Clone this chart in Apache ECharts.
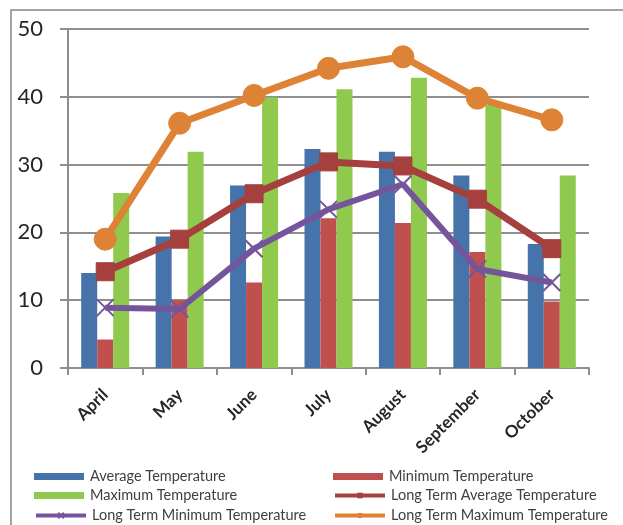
<!DOCTYPE html>
<html>
<head>
<meta charset="utf-8">
<script src="https://cdn.jsdelivr.net/npm/echarts@6/dist/echarts.min.js"></script>
<style>
  html, body { margin: 0; padding: 0; background: #ffffff; }
  #chart { width: 623px; height: 525px; }
</style>
</head>
<body>
<div id="chart"></div>
<script>
// Monthly temperatures (°C), April to October
const months = ['April', 'May', 'June', 'July', 'August', 'September', 'October'];
const yTicks = [0, 10, 20, 30, 40, 50];

const avgTemp = [14.0, 19.4, 26.9, 32.3, 31.9, 28.4, 18.3];
const minTemp = [4.2, 10.0, 12.6, 22.1, 21.4, 17.1, 9.8];
const maxTemp = [25.8, 31.9, 39.9, 41.1, 42.8, 38.8, 28.4];
const ltAvgTemp = [14.2, 19.0, 25.7, 30.4, 29.8, 24.9, 17.6];
const ltMinTemp = [8.9, 8.7, 17.6, 23.4, 27.1, 14.6, 12.6];
const ltMaxTemp = [19.0, 36.1, 40.2, 44.2, 45.9, 39.8, 36.6];

const C = {
  blue: '#4673A9',
  red: '#C0504D',
  green: '#8FCA4E',
  maroon: '#A5403E',
  purple: '#74559C',
  orange: '#DE8336',
  grid: '#8e8e8e',
  text: '#262626',
  legendText: '#404040'
};

const FONT = 'Lato, "Liberation Sans", sans-serif';
const crossPath = 'path://M0,0L10,10M10,0L0,10';

function barSeries(name, data, color) {
  return {
    name, type: 'bar', data,
    barWidth: 16, barGap: '0%',
    itemStyle: { color },
    z: 2
  };
}

function lineSeries(name, data, color, symbol, size, width, extra) {
  return Object.assign({
    name, type: 'line', data,
    symbol, symbolSize: size,
    showAllSymbol: true,
    lineStyle: { color, width },
    itemStyle: { color, borderColor: color },
    z: 5
  }, extra || {});
}

function legendAt(name, left, top, icon) {
  const item = icon ? { name, icon } : { name };
  return {
    data: [item],
    left, top,
    padding: 0,
    itemWidth: 50, itemHeight: 7,
    itemGap: 0,
    textStyle: { fontFamily: FONT, fontSize: 14.5, color: C.legendText, lineHeight: 14, padding: [0, 0, 0, 1] },
    lineStyle: { width: 4 },
    selectedMode: false
  };
}

const chart = echarts.init(document.getElementById('chart'), null, { renderer: 'canvas' });

chart.setOption({
  animation: false,
  backgroundColor: '#ffffff',
  graphic: [{
    type: 'rect',
    shape: { x: 11, y: 10, width: 700, height: 600 },
    style: { fill: 'none', stroke: '#a3a3a3', lineWidth: 2 },
    silent: true
  }],
  grid: { left: 68, right: 34, top: 29, bottom: 157, containLabel: false },
  xAxis: {
    type: 'category',
    data: months,
    axisLine: { show: true, lineStyle: { color: C.grid, width: 2 } },
    axisTick: { show: true, length: 7, lineStyle: { color: C.grid, width: 2 } },
    axisLabel: {
      rotate: 45, margin: 24, interval: 0,
      fontFamily: FONT, fontSize: 17, fontWeight: 'bold', color: C.text
    }
  },
  yAxis: {
    type: 'value',
    min: yTicks[0], max: yTicks[yTicks.length - 1], interval: 10,
    axisLine: { show: true, lineStyle: { color: C.grid, width: 2 } },
    axisTick: { show: true, length: 8, lineStyle: { color: C.grid, width: 2 } },
    splitLine: { show: true, lineStyle: { color: C.grid, width: 2 } },
    axisLabel: { margin: 25, fontFamily: FONT, fontSize: 22, color: C.text }
  },
  legend: [
    legendAt('Average Temperature', 34, 469, 'rect'),
    legendAt('Maximum Temperature', 34, 488, 'rect'),
    legendAt('Long Term Minimum Temperature', 34, 508),
    legendAt('Minimum Temperature', 333, 469, 'rect'),
    legendAt('Long Term Average Temperature', 333, 488),
    legendAt('Long Term Maximum Temperature', 333, 508)
  ],
  series: [
    barSeries('Average Temperature', avgTemp, C.blue),
    barSeries('Minimum Temperature', minTemp, C.red),
    barSeries('Maximum Temperature', maxTemp, C.green),
    lineSeries('Long Term Average Temperature', ltAvgTemp, C.maroon, 'rect', 18, 7),
    lineSeries('Long Term Minimum Temperature', ltMinTemp, C.purple, crossPath, 17, 6,
      { itemStyle: { color: C.purple, borderColor: C.purple, borderWidth: 2 } }),
    lineSeries('Long Term Maximum Temperature', ltMaxTemp, C.orange, 'circle', 22, 7)
  ]
});
</script>
</body>
</html>
